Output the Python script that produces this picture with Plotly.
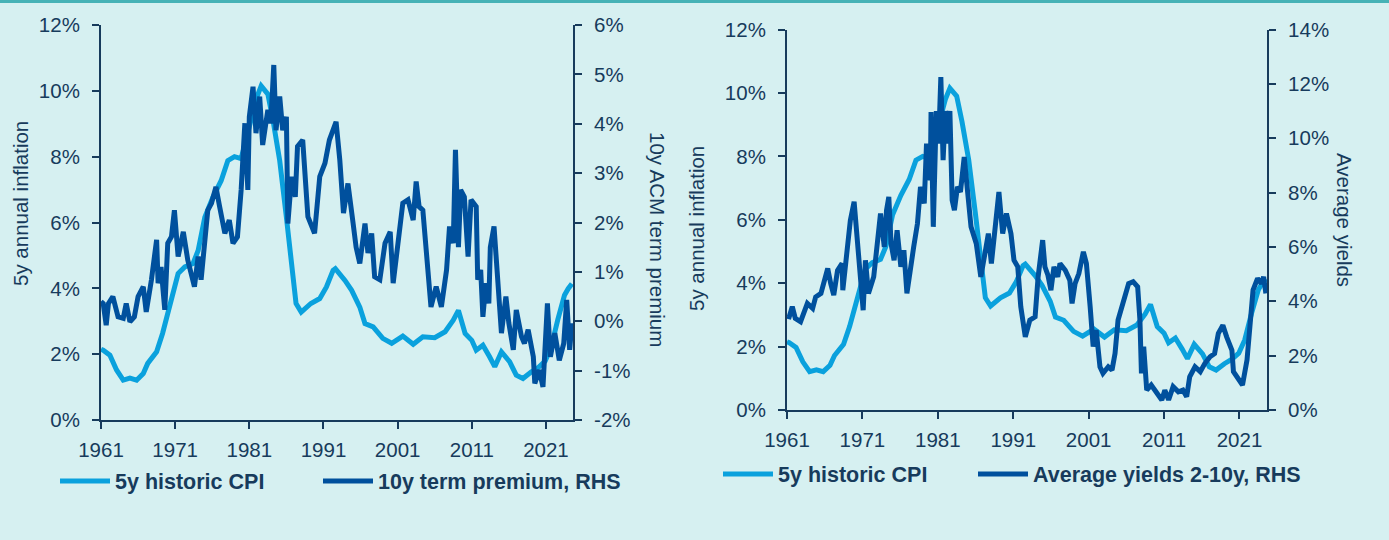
import plotly.graph_objects as go

# ---------------- data ----------------
cpi_years = [1961.0, 1961.3, 1962.2, 1963.1, 1964.0, 1964.9, 1965.8, 1966.7, 1967.3, 1968.5,
             1969.3, 1970.0, 1970.7, 1971.4, 1972.3, 1973.4, 1974.1, 1975.0, 1976.1, 1977.2,
             1978.1, 1979.0, 1979.9, 1981.0, 1982.0, 1982.6, 1983.5, 1984.2, 1985.1, 1986.0,
             1986.7, 1987.3, 1988.0, 1989.3, 1990.5, 1991.4, 1992.3, 1992.6, 1993.9, 1994.8,
             1995.9, 1996.6, 1997.7, 1999.0, 2000.2, 2001.7, 2003.1, 2004.4, 2006.0, 2007.4,
             2008.5, 2009.2, 2010.1, 2011.0, 2011.6, 2012.5, 2013.4, 2014.1, 2015.0, 2016.1,
             2017.0, 2017.9, 2019.0, 2020.0, 2020.9, 2021.7, 2022.6, 2023.5, 2024.0, 2024.5]
cpi_values = [2.15, 2.12, 1.97, 1.52, 1.21, 1.27, 1.21, 1.41, 1.72, 2.07,
              2.63, 3.23, 3.94, 4.45, 4.65, 4.75, 5.15, 6.16, 6.77, 7.27,
              7.88, 8.00, 7.94, 8.90, 9.80, 10.15, 9.90, 9.10, 7.88, 6.16,
              4.75, 3.54, 3.28, 3.54, 3.69, 4.04, 4.55, 4.60, 4.24, 3.94,
              3.43, 2.93, 2.83, 2.48, 2.33, 2.55, 2.30, 2.53, 2.50, 2.68,
              3.03, 3.33, 2.63, 2.42, 2.12, 2.27, 1.92, 1.62, 2.07, 1.77,
              1.36, 1.26, 1.46, 1.60, 1.79, 2.21, 3.05, 3.79, 3.99, 4.14]

tp_years = [1961.0, 1961.3, 1961.7, 1962.0, 1962.6, 1963.3, 1964.0, 1964.4, 1964.9, 1965.5,
            1966.0, 1966.7, 1967.1, 1967.8, 1968.5, 1968.7, 1969.1, 1969.6, 1970.0, 1970.5,
            1970.9, 1971.4, 1972.1, 1972.7, 1973.6, 1974.1, 1974.5, 1975.0, 1975.4, 1975.9,
            1976.5, 1977.0, 1977.7, 1978.3, 1978.8, 1979.4, 1979.9, 1980.4, 1980.8, 1981.0,
            1981.5, 1981.9, 1982.4, 1982.8, 1983.5, 1983.9, 1984.3, 1984.6, 1985.1, 1985.5,
            1986.0, 1986.2, 1986.7, 1987.2, 1987.5, 1988.2, 1988.9, 1989.8, 1990.5, 1991.2,
            1991.8, 1992.7, 1993.2, 1993.7, 1994.3, 1995.0, 1995.4, 1995.9, 1996.6, 1997.0,
            1997.5, 1997.9, 1998.6, 1999.3, 2000.0, 2000.4, 2001.1, 2001.7, 2002.4, 2003.1,
            2003.5, 2003.9, 2004.4, 2005.1, 2005.5, 2006.2, 2006.9, 2007.6, 2008.0, 2008.5,
            2008.8, 2009.2, 2009.5, 2010.0, 2010.5, 2010.9, 2011.6, 2011.8, 2012.2, 2012.5,
            2012.9, 2013.3, 2013.5, 2014.0, 2014.6, 2015.0, 2015.6, 2016.0, 2016.6, 2017.0,
            2017.7, 2018.1, 2018.6, 2019.3, 2019.5, 2020.1, 2020.6, 2021.2, 2021.6, 2022.2,
            2022.8, 2023.4, 2023.8, 2024.2, 2024.5]
tp_values = [0.40, 0.36, -0.08, 0.36, 0.50, 0.09, 0.06, 0.36, -0.01, 0.09,
             0.50, 0.70, 0.19, 0.84, 1.65, 0.77, 1.10, 0.23, 1.58, 1.71,
             2.25, 1.31, 1.81, 1.24, 0.70, 1.31, 0.84, 1.58, 2.25, 2.39,
             2.72, 2.32, 1.78, 2.05, 1.58, 1.71, 2.66, 4.01, 2.66, 4.14,
             4.75, 3.81, 4.55, 3.57, 4.28, 4.01, 5.19, 3.87, 4.55, 3.87,
             4.14, 1.98, 2.93, 2.52, 3.54, 3.67, 2.12, 1.78, 2.93, 3.20,
             3.67, 4.04, 3.27, 2.19, 2.79, 1.98, 1.50, 1.17, 1.98, 1.38,
             1.78, 0.90, 0.84, 1.58, 1.81, 0.77, 1.71, 2.39, 2.46, 2.05,
             2.83, 2.32, 2.25, 1.04, 0.29, 0.70, 0.29, 1.04, 1.92, 1.58,
             3.47, 1.50, 2.66, 2.52, 1.31, 2.46, 2.32, 0.84, 1.04, 0.09,
             0.77, 0.36, 1.50, 1.92, 0.77, -0.24, 0.50, -0.04, -0.58, 0.23,
             -0.31, -0.45, -0.17, -0.72, -1.26, -0.99, -1.33, 0.36, -0.72, -0.24,
             -0.79, -0.45, 0.43, -0.58, -0.04]

yld_years = [1961.0, 1961.3, 1961.7, 1962.1, 1962.8, 1963.7, 1964.4, 1964.8, 1965.5, 1965.9,
             1966.4, 1966.8, 1967.2, 1967.7, 1968.3, 1968.4, 1968.9, 1969.4, 1969.9, 1970.3,
             1970.7, 1971.1, 1971.4, 1971.8, 1972.5, 1972.9, 1973.4, 1973.9, 1974.2, 1974.5,
             1974.8, 1975.2, 1975.6, 1976.1, 1976.5, 1976.9, 1977.4, 1977.8, 1978.3, 1978.7,
             1979.2, 1979.5, 1980.0, 1980.1, 1980.4, 1980.8, 1981.1, 1981.4, 1981.7, 1982.0,
             1982.3, 1982.6, 1982.9, 1983.2, 1983.6, 1984.0, 1984.5, 1985.0, 1985.4, 1986.1,
             1986.7, 1987.4, 1987.7, 1988.1, 1988.6, 1989.1, 1989.6, 1990.1, 1990.7, 1991.1,
             1991.6, 1992.0, 1992.6, 1993.2, 1993.9, 1994.3, 1994.9, 1995.2, 1995.6, 1996.0,
             1996.4, 1996.9, 1997.2, 1997.9, 1998.5, 1998.8, 1999.2, 1999.7, 2000.3, 2000.7,
             2001.2, 2001.6, 2002.0, 2002.5, 2002.9, 2003.6, 2004.1, 2004.5, 2004.9, 2005.6,
             2006.3, 2006.9, 2007.5, 2007.8, 2008.0, 2008.3, 2008.7, 2009.3, 2010.0, 2010.7,
             2011.1, 2011.6, 2012.2, 2012.9, 2013.5, 2014.0, 2014.4, 2015.1, 2015.8, 2016.4,
             2017.1, 2017.7, 2018.2, 2018.8, 2019.3, 2020.0, 2020.2, 2020.9, 2021.4, 2022.0,
             2022.4, 2022.8, 2023.4, 2023.9, 2024.2, 2024.5]
yld_values = [3.45, 3.43, 3.80, 3.37, 3.25, 3.92, 3.74, 4.16, 4.29, 4.72,
              5.21, 4.65, 4.23, 5.14, 5.39, 4.41, 5.76, 6.98, 7.66, 6.49,
              5.30, 3.67, 5.51, 4.29, 4.90, 5.88, 7.23, 6.00, 7.35, 7.84,
              6.12, 5.51, 6.61, 5.27, 5.88, 4.29, 5.39, 6.00, 6.86, 8.21,
              7.60, 9.80, 8.45, 10.96, 6.74, 11.00, 9.80, 12.25, 9.19, 11.00,
              9.80, 11.00, 7.72, 7.35, 8.21, 8.02, 9.31, 7.60, 6.74, 6.12,
              4.90, 6.00, 6.49, 5.39, 6.61, 8.02, 6.49, 7.23, 6.49, 5.51,
              5.27, 3.80, 2.69, 3.31, 3.43, 4.90, 6.25, 5.27, 4.96, 4.41,
              5.27, 4.90, 5.39, 5.14, 4.78, 3.92, 4.65, 5.02, 5.82, 5.39,
              3.80, 2.33, 2.94, 1.59, 1.35, 1.59, 1.47, 2.08, 3.31, 3.92,
              4.65, 4.72, 4.53, 3.31, 1.35, 2.33, 0.73, 0.92, 0.61, 0.37,
              0.73, 0.37, 0.86, 0.67, 0.73, 0.49, 1.22, 1.59, 1.41, 1.71,
              1.96, 2.08, 2.82, 3.12, 2.69, 2.20, 1.41, 1.10, 0.92, 1.84,
              3.06, 4.41, 4.84, 4.65, 4.90, 4.29]

year_ticks = [1961, 1971, 1981, 1991, 2001, 2011, 2021]
infl_ticks = [0, 2, 4, 6, 8, 10, 12]
infl_labels = ["0%", "2%", "4%", "6%", "8%", "10%", "12%"]
tp_ticks = [-2, -1, 0, 1, 2, 3, 4, 5, 6]
tp_labels = ["-2%", "-1%", "0%", "1%", "2%", "3%", "4%", "5%", "6%"]
yld_ticks = [0, 2, 4, 6, 8, 10, 12, 14]
yld_labels = ["0%", "2%", "4%", "6%", "8%", "10%", "12%", "14%"]

# ---------------- style ----------------
W, H = 1389, 540
BG = "#d6f0f1"
INK = "#173b5c"
LIGHT = "#0aa1dd"
DARK = "#00509d"
FONT = "Liberation Sans, Arial, sans-serif"
TICKFONT = dict(family=FONT, size=20.5, color=INK)
LW = 5

fig = go.Figure()
fig.add_trace(go.Scatter(x=cpi_years, y=cpi_values, name="5y historic CPI", mode="lines",
                         line=dict(color=LIGHT, width=LW), xaxis="x", yaxis="y", legend="legend"))
fig.add_trace(go.Scatter(x=tp_years, y=tp_values, name="10y term premium, RHS", mode="lines",
                         line=dict(color=DARK, width=LW), xaxis="x", yaxis="y2", legend="legend2"))
fig.add_trace(go.Scatter(x=cpi_years, y=cpi_values, name="5y historic CPI", mode="lines",
                         line=dict(color=LIGHT, width=LW), xaxis="x2", yaxis="y3", legend="legend3"))
fig.add_trace(go.Scatter(x=yld_years, y=yld_values, name="Average yields 2-10y, RHS", mode="lines",
                         line=dict(color=DARK, width=LW), xaxis="x2", yaxis="y4", legend="legend4"))

axis_common = dict(showline=True, linecolor=INK, linewidth=2, ticks="outside", ticklen=7,
                   tickwidth=2, tickcolor=INK, tickfont=TICKFONT, showgrid=False,
                   zeroline=False, automargin=False, fixedrange=True)
y_common = dict(axis_common, ticklabelstandoff=8)


def xd(a, b):
    return [a / W, b / W]


def yd(top, bottom):
    return [(H - bottom) / H, (H - top) / H]


LEGFONT = dict(family=FONT, size=21.5, color=INK, weight="bold")


def leg(px, py):
    return dict(orientation="h", x=px / W, y=(H - py) / H, xanchor="left", yanchor="middle",
                bgcolor="rgba(0,0,0,0)", itemwidth=50, font=LEGFONT)


fig.update_layout(
    width=W, height=H,
    margin=dict(l=0, r=0, t=0, b=0),
    paper_bgcolor=BG, plot_bgcolor=BG,
    font=dict(family=FONT, color=INK),
    xaxis=dict(domain=xd(101, 573), anchor="y", range=[1961, 2024.65],
               tickmode="array", tickvals=year_ticks, ticklabelstandoff=3, **axis_common),
    yaxis=dict(domain=yd(25, 420), anchor="x", range=[0, 12],
               tickmode="array", tickvals=infl_ticks, ticktext=infl_labels, **y_common),
    yaxis2=dict(anchor="x", overlaying="y", side="right", range=[-2, 6],
                tickmode="array", tickvals=tp_ticks, ticktext=tp_labels, **y_common),
    xaxis2=dict(domain=xd(787, 1267), anchor="y3", range=[1961, 2024.65],
                tickmode="array", tickvals=year_ticks, ticklabelstandoff=3, **axis_common),
    yaxis3=dict(domain=yd(29.5, 410), anchor="x2", range=[0, 12],
                tickmode="array", tickvals=infl_ticks, ticktext=infl_labels, **y_common),
    yaxis4=dict(anchor="x2", overlaying="y3", side="right", range=[0, 14],
                tickmode="array", tickvals=yld_ticks, ticktext=yld_labels, **y_common),
    legend=leg(55, 481),
    legend2=leg(318, 481),
    legend3=leg(718, 474),
    legend4=leg(973, 474),
    showlegend=True,
)

titles = [
    ("5y annual inflation", 20, 204, -90),
    ("10y ACM term premium", 657, 239, 90),
    ("5y annual inflation", 696, 228, -90),
    ("Average yields", 1345, 220, 90),
]
for text, px, py, ang in titles:
    fig.add_annotation(text=text, x=px / W, y=(H - py) / H, xref="paper", yref="paper",
                       showarrow=False, textangle=ang, xanchor="center", yanchor="middle",
                       font=dict(family=FONT, size=20.5, color=INK))

# teal top border
fig.add_shape(type="line", xref="paper", yref="paper", x0=0, x1=1, y0=1 - 1.5 / H, y1=1 - 1.5 / H,
              line=dict(color="#46b2b6", width=3))

fig.write_html(
    "out.html",
    config={"displayModeBar": False},
    post_script="document.body.style.margin='0';document.body.style.background='" + BG + "';",
)
